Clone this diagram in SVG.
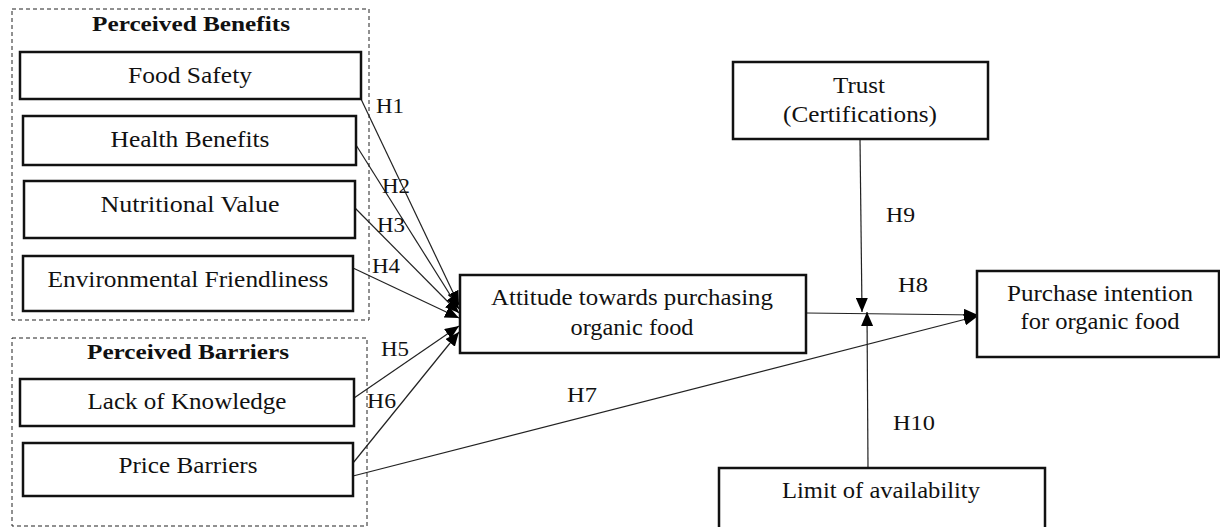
<svg xmlns="http://www.w3.org/2000/svg" width="1220" height="527" viewBox="0 0 1220 527">
<style>
text{font-family:"Liberation Serif","Times New Roman",serif;fill:#111;}
.lbl{font-size:22.5px;text-anchor:middle;}
.ttl{font-size:22px;font-weight:bold;text-anchor:middle;}
.h{font-size:21px;}
.box{fill:#fff;stroke:#111;stroke-width:2.5;}
.grp{fill:none;stroke:#222;stroke-width:1;stroke-dasharray:4 3;}
.con{stroke:#222;stroke-width:1.2;fill:none;}
</style>
<defs>
<marker id="arr" viewBox="0 0 14 12" refX="14" refY="6" markerWidth="14" markerHeight="12" markerUnits="userSpaceOnUse" orient="auto">
<path d="M0,0 L14,6 L0,12 Z" fill="#000"/>
</marker>
</defs>
<g id="group-benefits">
<rect class="grp" x="12" y="9" width="357" height="311"/>
<text class="ttl" x="191" y="31" textLength="198" lengthAdjust="spacingAndGlyphs">Perceived Benefits</text>
</g>
<g id="group-barriers">
<rect class="grp" x="12" y="338" width="355" height="188"/>
<text class="ttl" x="188" y="359" textLength="202" lengthAdjust="spacingAndGlyphs">Perceived Barriers</text>
</g>
<g id="connectors">
<line class="con" x1="361" y1="99" x2="459" y2="305" marker-end="url(#arr)"/>
<line class="con" x1="356" y1="145" x2="459" y2="309" marker-end="url(#arr)"/>
<line class="con" x1="355" y1="208" x2="459" y2="313" marker-end="url(#arr)"/>
<line class="con" x1="353" y1="268" x2="459" y2="318" marker-end="url(#arr)"/>
<line class="con" x1="354" y1="398" x2="459" y2="326" marker-end="url(#arr)"/>
<line class="con" x1="353" y1="463" x2="459" y2="332" marker-end="url(#arr)"/>
<line class="con" x1="353" y1="476" x2="978" y2="316" marker-end="url(#arr)"/>
<line class="con" x1="806" y1="313" x2="978" y2="315" marker-end="url(#arr)"/>
<line class="con" x1="860" y1="139" x2="862" y2="312" marker-end="url(#arr)"/>
<line class="con" x1="868" y1="468" x2="867" y2="312" marker-end="url(#arr)"/>
<text class="h" x="376" y="113" textLength="28" lengthAdjust="spacingAndGlyphs">H1</text>
<text class="h" x="382" y="193" textLength="28" lengthAdjust="spacingAndGlyphs">H2</text>
<text class="h" x="377" y="232" textLength="28" lengthAdjust="spacingAndGlyphs">H3</text>
<text class="h" x="372" y="273" textLength="28" lengthAdjust="spacingAndGlyphs">H4</text>
<text class="h" x="381" y="356" textLength="28" lengthAdjust="spacingAndGlyphs">H5</text>
<text class="h" x="367" y="408" textLength="29" lengthAdjust="spacingAndGlyphs">H6</text>
<text class="h" x="567" y="402" textLength="30" lengthAdjust="spacingAndGlyphs">H7</text>
<text class="h" x="898" y="292" textLength="30" lengthAdjust="spacingAndGlyphs">H8</text>
<text class="h" x="886" y="222" textLength="29" lengthAdjust="spacingAndGlyphs">H9</text>
<text class="h" x="893" y="430" textLength="42" lengthAdjust="spacingAndGlyphs">H10</text>
</g>
<g id="food-safety">
<rect class="box" x="20" y="52" width="341" height="47"/>
<text class="lbl" x="190" y="83" textLength="124" lengthAdjust="spacingAndGlyphs">Food Safety</text>
</g>
<g id="health-benefits">
<rect class="box" x="23" y="116" width="333" height="49"/>
<text class="lbl" x="190" y="147" textLength="159" lengthAdjust="spacingAndGlyphs">Health Benefits</text>
</g>
<g id="nutritional-value">
<rect class="box" x="24" y="181" width="331" height="57"/>
<text class="lbl" x="190" y="212" textLength="179" lengthAdjust="spacingAndGlyphs">Nutritional Value</text>
</g>
<g id="environmental-friendliness">
<rect class="box" x="23" y="256" width="330" height="55"/>
<text class="lbl" x="188" y="287" textLength="281" lengthAdjust="spacingAndGlyphs">Environmental Friendliness</text>
</g>
<g id="lack-of-knowledge">
<rect class="box" x="20" y="379" width="334" height="47"/>
<text class="lbl" x="187" y="409" textLength="199" lengthAdjust="spacingAndGlyphs">Lack of Knowledge</text>
</g>
<g id="price-barriers">
<rect class="box" x="23" y="443" width="330" height="53"/>
<text class="lbl" x="188" y="473" textLength="139" lengthAdjust="spacingAndGlyphs">Price Barriers</text>
</g>
<g id="attitude">
<rect class="box" x="460" y="275" width="346" height="78"/>
<text class="lbl" x="632" y="305" textLength="282" lengthAdjust="spacingAndGlyphs">Attitude towards purchasing</text>
<text class="lbl" x="632" y="335" textLength="123" lengthAdjust="spacingAndGlyphs">organic food</text>
</g>
<g id="trust">
<rect class="box" x="733" y="62" width="255" height="77"/>
<text class="lbl" x="859" y="93" textLength="52" lengthAdjust="spacingAndGlyphs">Trust</text>
<text class="lbl" x="860" y="122" textLength="154" lengthAdjust="spacingAndGlyphs">(Certifications)</text>
</g>
<g id="purchase-intention">
<rect class="box" x="977" y="271" width="242" height="86"/>
<text class="lbl" x="1100" y="301" textLength="186" lengthAdjust="spacingAndGlyphs">Purchase intention</text>
<text class="lbl" x="1100" y="329" textLength="159" lengthAdjust="spacingAndGlyphs">for organic food</text>
</g>
<g id="limit-availability">
<rect class="box" x="719" y="468" width="326" height="62"/>
<text class="lbl" x="881" y="498" textLength="198" lengthAdjust="spacingAndGlyphs">Limit of availability</text>
</g>
</svg>
